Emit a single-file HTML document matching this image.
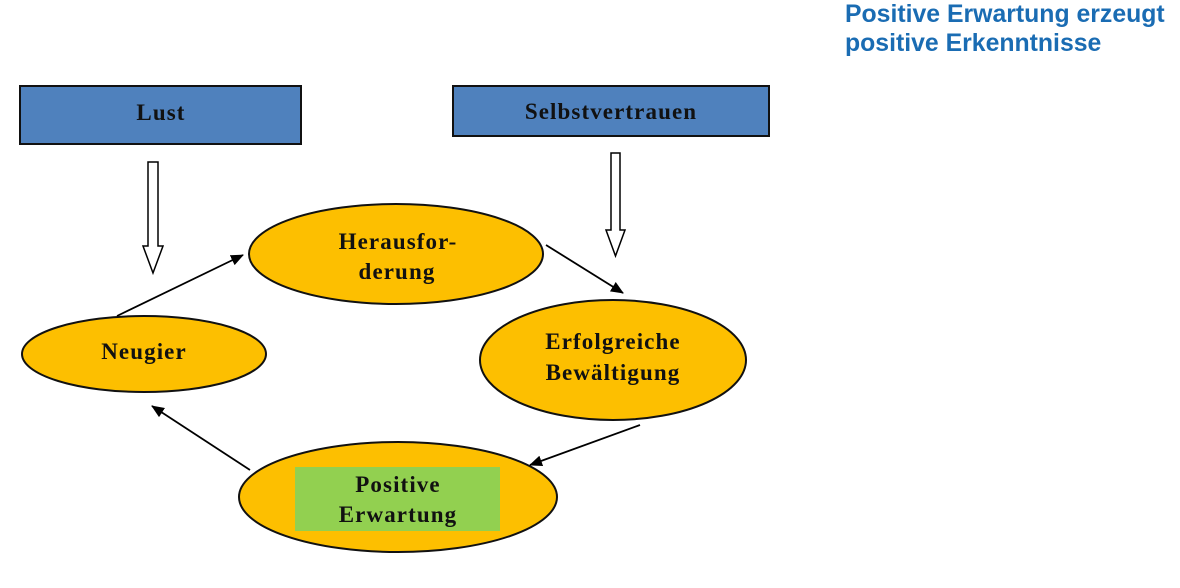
<!DOCTYPE html>
<html><head><meta charset="utf-8"><style>
html,body{margin:0;padding:0;background:#fff;width:1180px;height:588px;overflow:hidden}
svg{display:block}
.t{font-family:"Liberation Serif",serif;font-weight:bold;font-size:23px;fill:#111;letter-spacing:1.1px}
.h{font-family:"Liberation Sans",sans-serif;font-weight:bold;font-size:24.8px;fill:#1a6cb3}
</style></head><body>
<svg width="1180" height="588" viewBox="0 0 1180 588">
<defs><marker id="a" markerWidth="13" markerHeight="11" refX="12" refY="5.5" orient="auto" markerUnits="userSpaceOnUse"><path d="M0,0 L13,5.5 L0,11 z" fill="#000"/></marker></defs>
<text class="h" x="845" y="22">Positive Erwartung erzeugt</text>
<text class="h" x="845" y="51">positive Erkenntnisse</text>
<rect x="20" y="86" width="281" height="58" fill="#4f81bd" stroke="#111" stroke-width="2"/>
<text class="t" x="161" y="120" text-anchor="middle">Lust</text>
<rect x="453" y="86" width="316" height="50" fill="#4f81bd" stroke="#111" stroke-width="2"/>
<text class="t" x="611" y="119" text-anchor="middle">Selbstvertrauen</text>
<path d="M148,162 H158 V246 H163 L153,273 L143,246 H148 Z" fill="#fff" stroke="#000" stroke-width="1.5"/>
<path d="M611,153 H620 V230 H625 L615.5,256 L606,230 H611 Z" fill="#fff" stroke="#000" stroke-width="1.5"/>
<ellipse cx="396" cy="254" rx="147" ry="50" fill="#fdbf00" stroke="#111" stroke-width="2"/>
<text class="t" x="398" y="249" text-anchor="middle">Herausfor-</text>
<text class="t" x="397" y="279" text-anchor="middle">derung</text>
<ellipse cx="144" cy="354" rx="122" ry="38" fill="#fdbf00" stroke="#111" stroke-width="2"/>
<text class="t" x="144" y="359" text-anchor="middle">Neugier</text>
<ellipse cx="613" cy="360" rx="133" ry="60" fill="#fdbf00" stroke="#111" stroke-width="2"/>
<text class="t" x="613" y="349" text-anchor="middle">Erfolgreiche</text>
<text class="t" x="613" y="380" text-anchor="middle">Bewältigung</text>
<ellipse cx="398" cy="497" rx="159" ry="55" fill="#fdbf00" stroke="#111" stroke-width="2"/>
<rect x="295" y="467" width="205" height="64" fill="#92d050"/>
<text class="t" x="398" y="492" text-anchor="middle">Positive</text>
<text class="t" x="398" y="522" text-anchor="middle">Erwartung</text>
<line x1="117" y1="316" x2="243" y2="255" stroke="#000" stroke-width="1.8" marker-end="url(#a)"/>
<line x1="546" y1="245" x2="623" y2="293" stroke="#000" stroke-width="1.8" marker-end="url(#a)"/>
<line x1="640" y1="425" x2="530" y2="465" stroke="#000" stroke-width="1.8" marker-end="url(#a)"/>
<line x1="250" y1="470" x2="152" y2="406" stroke="#000" stroke-width="1.8" marker-end="url(#a)"/>
</svg>
</body></html>
